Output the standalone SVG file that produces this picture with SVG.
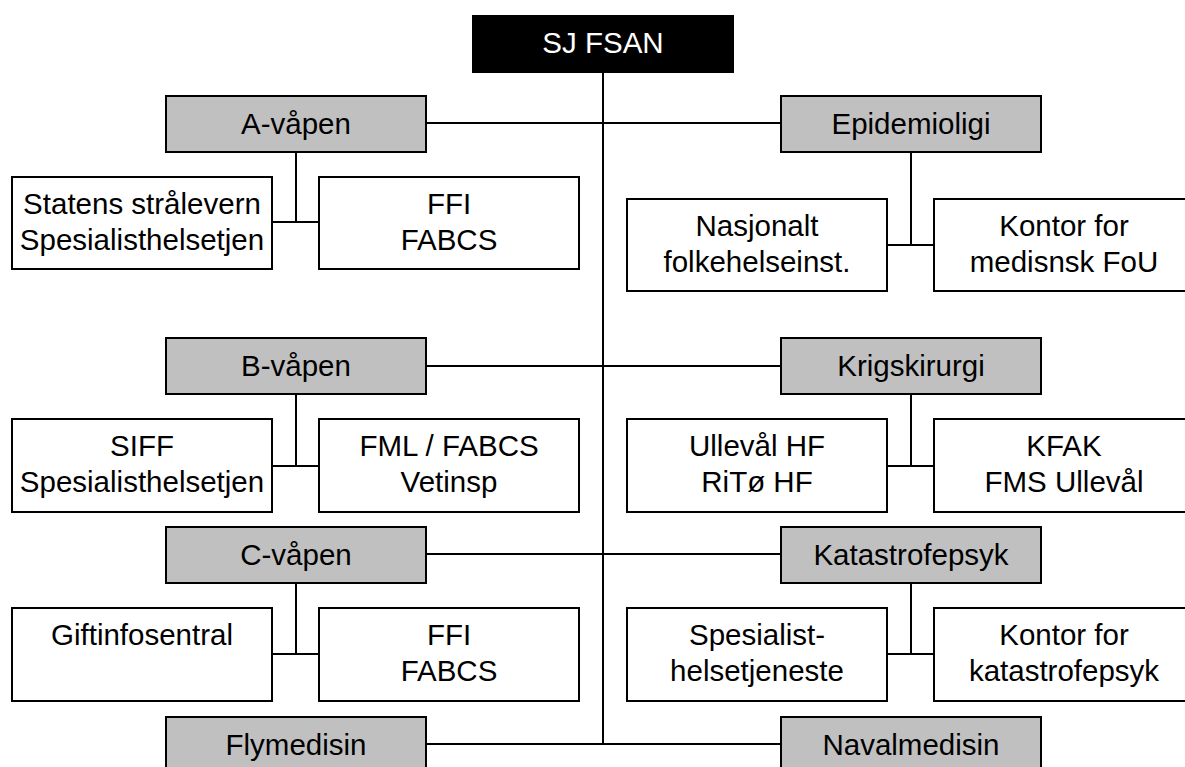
<svg xmlns="http://www.w3.org/2000/svg" width="1185" height="767" viewBox="0 0 1185 767">
<style>
.b{stroke:#000;stroke-width:2}
.g{fill:#c0c0c0}
.w{fill:#fff}
.k{fill:#000}
text{font-family:"Liberation Sans",Arial,sans-serif;font-size:29.5px;text-anchor:middle;fill:#000}
.t{fill:#fff}
#connectors line{stroke:#000;stroke-width:2}
</style>
<g id="connectors">
<line x1="603" y1="72" x2="603" y2="744"/>
<line x1="426" y1="123" x2="781" y2="123"/>
<line x1="426" y1="366" x2="781" y2="366"/>
<line x1="426" y1="554" x2="781" y2="554"/>
<line x1="426" y1="744" x2="781" y2="744"/>
<line x1="296" y1="152" x2="296" y2="222"/>
<line x1="272" y1="222" x2="319" y2="222"/>
<line x1="911" y1="152" x2="911" y2="245"/>
<line x1="887" y1="245" x2="934" y2="245"/>
<line x1="296" y1="394" x2="296" y2="466"/>
<line x1="272" y1="466" x2="319" y2="466"/>
<line x1="911" y1="394" x2="911" y2="466"/>
<line x1="887" y1="466" x2="934" y2="466"/>
<line x1="296" y1="583" x2="296" y2="654"/>
<line x1="272" y1="654" x2="319" y2="654"/>
<line x1="911" y1="583" x2="911" y2="654"/>
<line x1="887" y1="654" x2="934" y2="654"/>
</g>
<g id="sjfsan"><rect class="b k" x="473" y="16" width="260" height="56"/><text class="t" x="603" y="53">SJ FSAN</text></g>
<g id="avapen"><rect class="b g" x="166" y="96" width="260" height="56"/><text x="296" y="134">A-våpen</text></g>
<g id="epidemioligi"><rect class="b g" x="781" y="96" width="260" height="56"/><text x="911" y="134">Epidemioligi</text></g>
<g id="statens"><rect class="b w" x="12" y="177" width="260" height="92"/><text x="142" y="214">Statens strålevern</text><text x="142" y="250">Spesialisthelsetjen</text></g>
<g id="ffi1"><rect class="b w" x="319" y="177" width="260" height="92"/><text x="449" y="214">FFI</text><text x="449" y="250">FABCS</text></g>
<g id="nasjonalt"><rect class="b w" x="627" y="199" width="260" height="92"/><text x="757" y="236">Nasjonalt</text><text x="757" y="272">folkehelseinst.</text></g>
<g id="kontorfou"><rect class="b w" x="934" y="199" width="260" height="92"/><text x="1064" y="236">Kontor for</text><text x="1064" y="272">medisnsk FoU</text></g>
<g id="bvapen"><rect class="b g" x="166" y="338" width="260" height="56"/><text x="296" y="376">B-våpen</text></g>
<g id="krigskirurgi"><rect class="b g" x="781" y="338" width="260" height="56"/><text x="911" y="376">Krigskirurgi</text></g>
<g id="siff"><rect class="b w" x="12" y="419" width="260" height="93"/><text x="142" y="456">SIFF</text><text x="142" y="492">Spesialisthelsetjen</text></g>
<g id="fml"><rect class="b w" x="319" y="419" width="260" height="93"/><text x="449" y="456">FML / FABCS</text><text x="449" y="492">Vetinsp</text></g>
<g id="ulleval"><rect class="b w" x="627" y="419" width="260" height="93"/><text x="757" y="456">Ullevål HF</text><text x="757" y="492">RiTø HF</text></g>
<g id="kfak"><rect class="b w" x="934" y="419" width="260" height="93"/><text x="1064" y="456">KFAK</text><text x="1064" y="492">FMS Ullevål</text></g>
<g id="cvapen"><rect class="b g" x="166" y="527" width="260" height="56"/><text x="296" y="565">C-våpen</text></g>
<g id="katastrofepsyk"><rect class="b g" x="781" y="527" width="260" height="56"/><text x="911" y="565">Katastrofepsyk</text></g>
<g id="giftinfo"><rect class="b w" x="12" y="608" width="260" height="93"/><text x="142" y="645">Giftinfosentral</text></g>
<g id="ffi2"><rect class="b w" x="319" y="608" width="260" height="93"/><text x="449" y="645">FFI</text><text x="449" y="681">FABCS</text></g>
<g id="spesialist"><rect class="b w" x="627" y="608" width="260" height="93"/><text x="757" y="645">Spesialist-</text><text x="757" y="681">helsetjeneste</text></g>
<g id="kontorkat"><rect class="b w" x="934" y="608" width="260" height="93"/><text x="1064" y="645">Kontor for</text><text x="1064" y="681">katastrofepsyk</text></g>
<g id="flymedisin"><rect class="b g" x="166" y="717" width="260" height="56"/><text x="296" y="755">Flymedisin</text></g>
<g id="navalmedisin"><rect class="b g" x="781" y="717" width="260" height="56"/><text x="911" y="755">Navalmedisin</text></g>
</svg>
